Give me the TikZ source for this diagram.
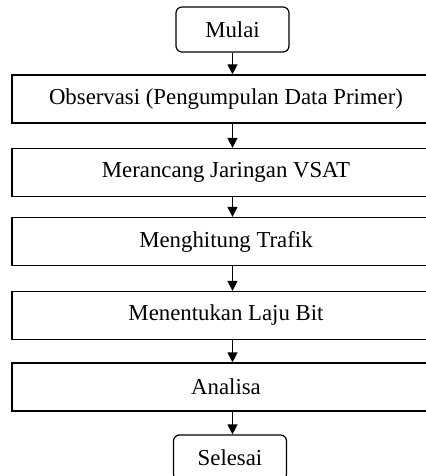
\documentclass[tikz,border=0pt]{standalone}
\usepackage{fontspec}
\setmainfont{Liberation Serif}
\usetikzlibrary{arrows.meta}
\tikzset{
  langkah/.style={draw, line width=0.6pt, minimum width=214pt, minimum height=24pt, inner sep=0pt, font=\fontsize{11.4}{13}\selectfont},
  terminal/.style={draw, line width=0.6pt, rounded corners=3pt, minimum width=56.5pt, minimum height=22.5pt, inner sep=0pt, font=\fontsize{11.4}{13}\selectfont},
  panah/.style={line width=0.6pt, -{Triangle[width=5pt,length=5pt]}}
}
\begin{document}
\begin{tikzpicture}[x=0.5pt,y=-0.5pt]
\useasboundingbox (0,0) rectangle (426,476);
\node[terminal] (mulai) at (232.5,29.5) {Mulai};
\node[langkah] (obs) at (226,99) {Observasi (Pengumpulan Data Primer)};
\node[langkah] (rancang) at (226,172.5) {Merancang Jaringan VSAT};
\node[langkah] (trafik) at (226,241.5) {Menghitung Trafik};
\node[langkah] (laju) at (226,315.5) {Menentukan Laju Bit};
\node[langkah] (analisa) at (226,387) {Analisa};
\node[terminal] (selesai) at (230,457.5) {Selesai};
\draw[panah] (mulai.south) -- (mulai.south |- obs.north);
\draw[panah] (obs.south -| mulai) -- (rancang.north -| mulai);
\draw[panah] (rancang.south -| mulai) -- (trafik.north -| mulai);
\draw[panah] (trafik.south -| mulai) -- (laju.north -| mulai);
\draw[panah] (laju.south -| mulai) -- (analisa.north -| mulai);
\draw[panah] (analisa.south -| mulai) -- (selesai.north -| mulai);
\end{tikzpicture}
\end{document}
